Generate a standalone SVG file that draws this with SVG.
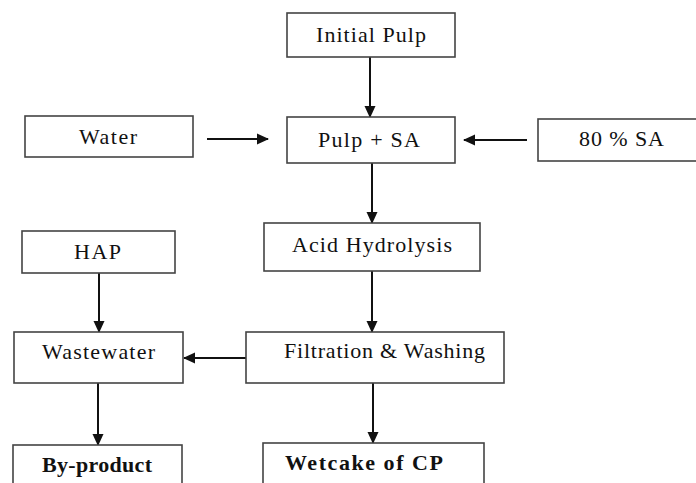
<svg xmlns="http://www.w3.org/2000/svg" width="696" height="483" viewBox="0 0 696 483">
<style>
rect{fill:#fff;stroke:#444;stroke-width:1.6}
text{font-family:"Liberation Serif","Times New Roman",serif;font-size:22px;fill:#111;text-anchor:start}
.b{font-weight:bold}
.c line{stroke:#111;stroke-width:2;marker-end:url(#ah)}
</style>
<defs>
<marker id="ah" markerWidth="12" markerHeight="12" refX="11" refY="6" orient="auto" markerUnits="userSpaceOnUse" viewBox="0 0 12 12">
<path d="M0,0.5 L12,6 L0,11.5 z" fill="#111"/>
</marker>
</defs>
<g class="c">
<line x1="370" y1="57" x2="370" y2="117"/>
<line x1="207" y1="139" x2="268" y2="139"/>
<line x1="527" y1="140" x2="464" y2="140"/>
<line x1="372" y1="163" x2="372" y2="223"/>
<line x1="372" y1="271" x2="372" y2="332"/>
<line x1="99" y1="273" x2="99" y2="332"/>
<line x1="246" y1="358" x2="184" y2="358"/>
<line x1="98" y1="383" x2="98" y2="445"/>
<line x1="373" y1="383" x2="373" y2="443"/>
</g>
<g id="initial"><rect x="287" y="13" width="168" height="44"/><text x="316" y="42" textLength="110" lengthAdjust="spacing">Initial Pulp</text></g>
<g id="pulpsa"><rect x="287" y="117" width="168" height="46"/><text x="318" y="147" textLength="102" lengthAdjust="spacing">Pulp + SA</text></g>
<g id="water"><rect x="25" y="116" width="168" height="41"/><text x="79" y="144" textLength="58" lengthAdjust="spacing">Water</text></g>
<g id="sa80"><rect x="538" y="119" width="160" height="42"/><text x="579" y="146" textLength="85" lengthAdjust="spacing">80 % SA</text></g>
<g id="acid"><rect x="264" y="223" width="216" height="48"/><text x="292" y="252" textLength="160" lengthAdjust="spacing">Acid Hydrolysis</text></g>
<g id="hap"><rect x="22" y="231" width="153" height="42"/><text x="74" y="259" textLength="47" lengthAdjust="spacing">HAP</text></g>
<g id="wastewater"><rect x="14" y="332" width="169" height="51"/><text x="42" y="359" textLength="113" lengthAdjust="spacing">Wastewater</text></g>
<g id="filtration"><rect x="246" y="332" width="258" height="51"/><text x="284" y="358" textLength="201" lengthAdjust="spacing">Filtration  &amp; Washing</text></g>
<g id="byproduct"><rect x="13" y="445" width="169" height="45"/><text class="b" x="42" y="472" textLength="110" lengthAdjust="spacing">By-product</text></g>
<g id="wetcake"><rect x="263" y="443" width="221" height="47"/><text class="b" x="285" y="470" textLength="158" lengthAdjust="spacing">Wetcake of  CP</text></g>
</svg>
